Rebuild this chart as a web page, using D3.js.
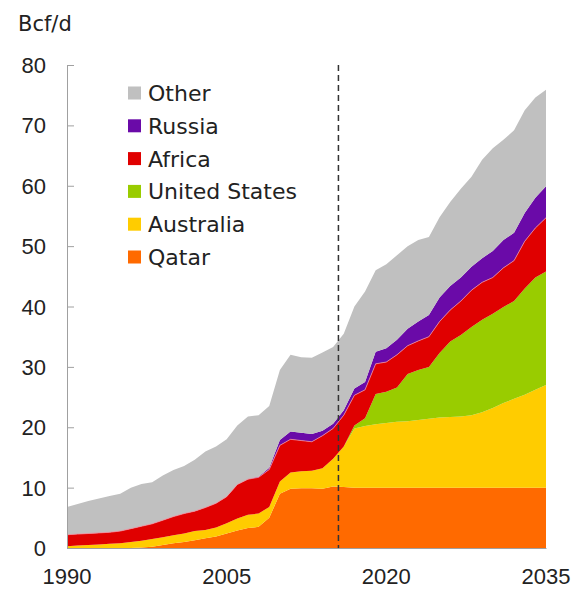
<!DOCTYPE html>
<html>
<head>
<meta charset="utf-8">
<script src="https://cdn.jsdelivr.net/npm/d3@7"></script>
<style>
  body { margin: 0; background: #fff; }
  text { font-family: "Liberation Sans", Arial, sans-serif; fill: #222; }
  .wide { font-family: "DejaVu Sans", sans-serif; }
</style>
</head>
<body>
<svg width="575" height="590"></svg>
<script>
var years = d3.range(1990, 2036);

var seriesNames = ["Qatar", "Australia", "United States", "Africa", "Russia", "Other"];
var colors = ["#ff6a00", "#ffcc00", "#99cc00", "#e00000", "#6a0aa8", "#c0c0c0"];

var qatar = [0,0,0,0,0,0,0,0.1,0.2,0.5,0.8,1.0,1.3,1.6,1.9,2.4,2.9,3.3,3.5,5.0,
  9.0,9.8,9.9,9.9,9.8,10.2,10.1,10,10,10,10,10,10,10,10,10,10,10,10,10,10,10,10,10,10,10];
var australia = [0.3,0.4,0.5,0.6,0.7,0.8,1.0,1.1,1.3,1.3,1.3,1.4,1.5,1.4,1.5,1.7,2.0,2.2,2.2,1.8,
  2.0,2.7,2.8,2.9,3.4,4.6,6.7,9.8,10.2,10.5,10.7,10.9,11.0,11.2,11.4,11.6,11.7,11.8,12.0,12.5,
  13.2,14.0,14.7,15.4,16.2,17.0];
var unitedStates = [0,0,0,0,0,0,0,0,0,0,0,0,0,0,0,0,0,0,0,0,0,0,0,0,0,0,0,
  0.5,1.3,5.0,5.2,5.7,7.8,8.3,8.6,10.7,12.5,13.5,14.6,15.3,15.6,15.9,16.2,17.6,18.6,18.8];
var africa = [1.9,1.9,1.9,1.9,1.9,2.0,2.2,2.4,2.5,2.8,3.1,3.3,3.3,3.7,4.0,4.4,5.6,5.9,6.0,6.2,
  6.0,5.5,5.1,4.8,5.4,5.0,5.2,5.0,4.7,5.0,4.9,5.4,4.7,4.8,5.0,5.2,5.2,5.6,6.1,6.2,
  6.0,6.5,6.7,7.8,8.2,8.9];
var russia = [0,0,0,0,0,0,0,0,0,0,0,0,0,0,0,0,0,0,0.1,0.3,
  0.9,1.3,1.3,1.3,0.8,0.8,0.8,1.1,1.3,2.0,2.3,2.5,2.8,3.2,3.6,4.0,4.0,3.9,3.9,4.0,
  4.4,4.6,4.6,4.7,5.0,5.2];
var other = [4.6,5.0,5.4,5.7,6.0,6.2,6.8,7.0,6.9,7.4,7.7,7.9,8.5,9.3,9.4,9.5,9.8,10.4,10.2,10.2,
  11.6,12.7,12.5,12.6,13.0,12.7,12.7,13.6,15.0,13.5,13.9,14.0,13.7,13.5,12.9,13.3,13.9,14.7,14.9,16.3,
  17.0,16.6,17.0,17.0,16.6,16.0];

var yTicks = [0, 10, 20, 30, 40, 50, 60, 70, 80];
var xTicks = [1990, 2005, 2020, 2035];
var legendOrder = ["Other", "Russia", "Africa", "United States", "Australia", "Qatar"];
var historyEnd = 2015.5;

var allSeries = [qatar, australia, unitedStates, africa, russia, other];
var table = years.map(function(yr, i) {
  var row = { year: yr };
  seriesNames.forEach(function(n, k) { row[n] = allSeries[k][i]; });
  return row;
});

var svg = d3.select("svg");

var x = d3.scaleLinear().domain([1990, 2035]).range([67, 546]);
var y = d3.scaleLinear().domain([0, 80]).range([548, 65]);
var color = d3.scaleOrdinal().domain(seriesNames).range(colors);

var stacked = d3.stack().keys(seriesNames)(table);

var area = d3.area()
  .x(function(d) { return x(d.data.year); })
  .y0(function(d) { return y(d[0]); })
  .y1(function(d) { return y(d[1]); });

svg.selectAll(".layer")
  .data(stacked)
  .enter()
  .append("path")
    .attr("class", "layer")
    .attr("fill", function(d) { return color(d.key); })
    .attr("d", area);

// faint light edge along the top of the red band, as in the source
svg.append("path")
  .datum(stacked[3])
  .attr("fill", "none")
  .attr("stroke", "#f08a9a")
  .attr("stroke-width", 0.8)
  .attr("d", area.lineY1());

// y axis with inward ticks
var yAxis = svg.append("g")
  .attr("transform", "translate(" + x(1990) + ",0)")
  .call(d3.axisRight(y).tickValues(yTicks).tickSize(7).tickFormat(""));
yAxis.select(".domain").attr("stroke", "#a0a0a0");
yAxis.selectAll(".tick line").attr("stroke", "#a0a0a0");

svg.selectAll(".ylab")
  .data(yTicks)
  .enter()
  .append("text")
    .attr("x", 46)
    .attr("y", function(d) { return y(d) + 8; })
    .attr("text-anchor", "end")
    .attr("font-size", 22)
    .text(function(d) { return d; });

// bottom axis
var xAxis = svg.append("g")
  .attr("transform", "translate(0," + y(0) + ")")
  .call(d3.axisBottom(x).tickValues(xTicks).tickSize(0).tickFormat(""));
xAxis.select(".domain").attr("stroke", "#a0a0a0");

svg.selectAll(".xlab")
  .data(xTicks)
  .enter()
  .append("text")
    .attr("x", function(d) { return x(d); })
    .attr("y", 584)
    .attr("text-anchor", "middle")
    .attr("font-size", 22)
    .text(function(d) { return d; });

svg.append("text")
  .attr("class", "wide")
  .attr("x", 18)
  .attr("y", 31)
  .attr("font-size", 21)
  .text("Bcf/d");

// history / projection divider
svg.append("line")
  .attr("x1", x(historyEnd)).attr("x2", x(historyEnd))
  .attr("y1", y(80)).attr("y2", y(0))
  .attr("stroke", "#333")
  .attr("stroke-width", 1.5)
  .attr("stroke-dasharray", "6,4");

// legend
var legend = svg.selectAll(".legend")
  .data(legendOrder)
  .enter()
  .append("g")
    .attr("transform", function(d, i) { return "translate(128," + (93 + i * 32.8) + ")"; });

legend.append("rect")
  .attr("x", 0).attr("y", -6.5)
  .attr("width", 13).attr("height", 13)
  .attr("fill", function(d) { return color(d); });

legend.append("text")
  .attr("class", "wide")
  .attr("x", 20)
  .attr("y", 8)
  .attr("font-size", 22)
  .text(function(d) { return d; });
</script>
</body>
</html>
